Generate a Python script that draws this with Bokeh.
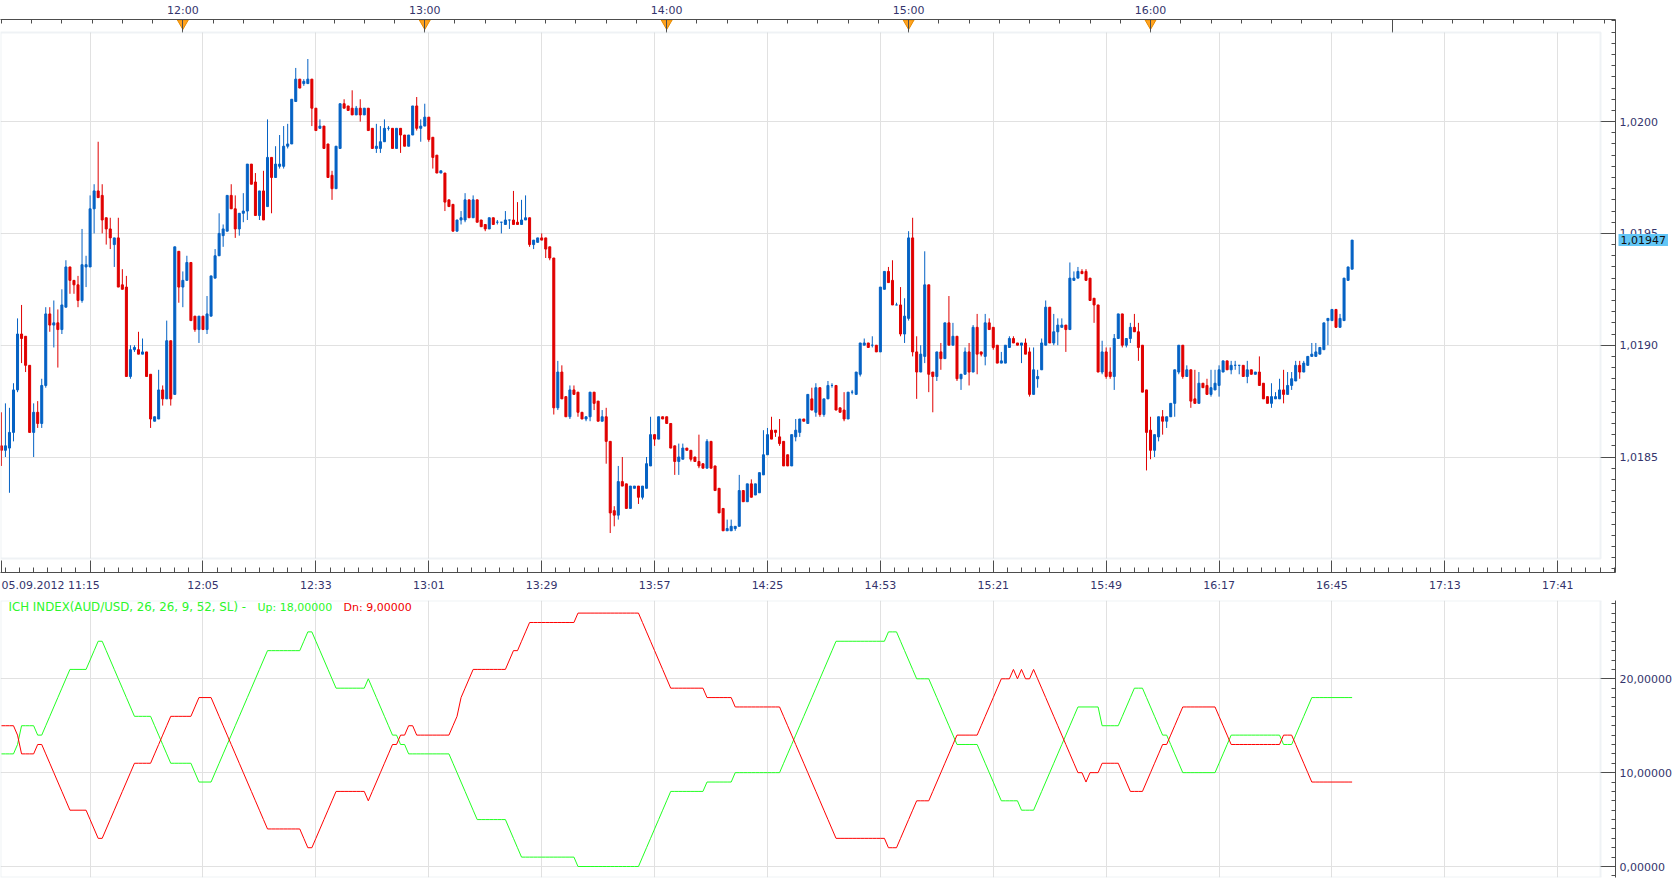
from bokeh.plotting import figure
from bokeh.layouts import column
from bokeh.models import (ColumnDataSource, FixedTicker, CustomJSTickFormatter,
                          LinearAxis, Grid, BoxAnnotation, Label)
from bokeh.core.properties import value
from bokeh.embed import file_html
from bokeh.resources import INLINE

# ---------------- data (1-minute AUD/USD bars from 05.09.2012 11:15) ----------------
# prices in points of 0.00001 above 1.00000
start_label = "05.09.2012 11:15"
opens = [
1855,1853,1854,1861,1880,1905,1904,1891,1861,1870, 1865,1882,1914,1909,1910,1907,1917,1935,1929,1927,
1920,1935,1935,1961,1969,1967,1957,1952,1945,1948, 1927,1926,1886,1898,1898,1896,1897,1887,1866,1867,
1880,1876,1902,1878,1942,1926,1929,1937,1913,1907, 1913,1907,1913,1930,1940,1949,1951,1967,1961,1952,
1959,1960,1981,1973,1958,1969,1962,1984,1975,1980, 1980,1989,1990,2009,2019,2017,2017,2019,2006,1997,
1998,1990,1976,1970,1988,2008,2007,2006,2003,2006, 2003,2006,1997,1988,1988,1991,1997,1997,1988,1997,
1994,1989,1994,2007,1997,1998,2002,1993,1985,1977, 1977,1965,1963,1951,1956,1956,1965,1957,1965,1956,
1954,1952,1957,1955,1955,1954,1956,1956,1955,1954, 1956,1957,1945,1946,1948,1948,1944,1939,1872,1888,
1877,1868,1880,1879,1870,1867,1868,1879,1875,1866, 1868,1857,1826,1824,1839,1838,1827,1836,1837,1832,
1836,1846,1860,1858,1868,1868,1865,1855,1848,1849, 1854,1853,1850,1848,1847,1845,1857,1846,1836,1827,
1817,1817,1818,1819,1835,1830,1838,1833,1834,1842, 1851,1862,1862,1859,1857,1851,1846,1859,1861,1867,
1865,1876,1870,1881,1869,1876,1882,1882,1872,1871, 1867,1879,1878,1887,1900,1901,1900,1900,1897,1925,
1933,1929,1918,1918,1905,1912,1948,1897,1888,1895, 1927,1888,1886,1897,1894,1910,1900,1904,1885,1887,
1897,1888,1908,1897,1895,1910,1908,1900,1892,1892, 1899,1903,1901,1900,1901,1897,1878,1885,1889,1900,
1917,1901,1906,1908,1909,1907,1929,1930,1933,1933, 1930,1921,1918,1888,1897,1888,1886,1903,1914,1900,
1903,1908,1906,1900,1880,1862,1853,1859,1868,1866, 1868,1874,1888,1900,1886,1889,1876,1874,1883,1882,
1878,1880,1882,1888,1893,1889,1891,1891,1891,1886, 1889,1887,1888,1883,1877,1874,1876,1876,1880,1878,
1882,1884,1891,1888,1891,1895,1895,1896,1898,1911, 1911,1916,1908,1911,1929,1934]
highs = [
1870,1874,1872,1883,1912,1918,1904,1891,1874,1875, 1885,1917,1917,1920,1916,1925,1938,1935,1929,1931,
1952,1940,1967,1972,1991,1972,1957,1957,1948,1957, 1934,1931,1900,1900,1906,1903,1897,1887,1868,1889,
1882,1911,1902,1944,1942,1933,1940,1937,1913,1913, 1913,1922,1931,1943,1959,1954,1967,1972,1967,1959,
1968,1981,1981,1977,1969,1978,2001,1984,1989,1994, 1998,1999,2010,2024,2019,2019,2028,2019,2006,2001,
1998,1990,1978,1989,2008,2010,2007,2014,2007,2010, 2006,2006,1997,1999,1998,2001,1998,1997,1997,1997,
1994,1994,2007,2011,2001,2008,2002,1993,1985,1978, 1977,1965,1963,1956,1960,1968,1965,1967,1965,1956,
1954,1957,1957,1956,1955,1960,1956,1969,1964,1965, 1967,1957,1947,1948,1950,1948,1944,1939,1893,1891,
1877,1882,1882,1879,1870,1868,1879,1879,1875,1871, 1872,1857,1828,1846,1850,1838,1837,1837,1837,1837,
1850,1868,1860,1868,1868,1868,1865,1855,1856,1856, 1854,1853,1850,1860,1847,1858,1857,1846,1836,1827,
1822,1822,1819,1842,1835,1838,1840,1838,1843,1862, 1863,1868,1862,1867,1857,1851,1860,1867,1867,1867,
1878,1881,1883,1881,1876,1884,1883,1882,1872,1879, 1879,1880,1888,1901,1903,1901,1904,1900,1926,1933,
1935,1938,1919,1926,1921,1951,1957,1904,1900,1942, 1927,1888,1897,1901,1910,1922,1910,1904,1887,1899,
1901,1909,1914,1897,1914,1912,1908,1900,1897,1900, 1904,1904,1901,1901,1903,1899,1899,1889,1903,1920,
1917,1914,1912,1912,1909,1937,1933,1935,1934,1934, 1930,1921,1918,1902,1899,1899,1905,1914,1914,1903,
1910,1914,1910,1900,1880,1868,1860,1868,1871,1868, 1874,1889,1900,1900,1891,1889,1889,1888,1883,1885,
1889,1889,1891,1893,1893,1893,1893,1891,1891,1893, 1889,1888,1895,1883,1877,1883,1879,1885,1889,1888,
1888,1893,1893,1893,1895,1901,1901,1899,1910,1912, 1916,1916,1914,1930,1935,1947]
lows = [
1846,1850,1834,1857,1879,1892,1888,1861,1850,1863, 1863,1881,1906,1899,1890,1905,1917,1923,1923,1917,
1919,1926,1935,1950,1966,1950,1945,1943,1935,1926, 1925,1886,1885,1897,1896,1896,1886,1863,1866,1867,
1873,1876,1873,1878,1919,1917,1929,1911,1906,1901, 1907,1905,1913,1930,1940,1944,1951,1961,1948,1949,
1955,1956,1972,1958,1956,1956,1962,1959,1975,1979, 1979,1988,1990,2009,2015,2016,2017,1998,1996,1997,
1988,1975,1965,1970,1988,2006,2005,2003,2003,2000, 2003,1996,1988,1986,1986,1991,1996,1988,1988,1986,
1989,1989,1994,1996,1991,1998,1991,1979,1977,1977, 1960,1962,1951,1951,1954,1955,1957,1957,1955,1953,
1951,1952,1954,1954,1950,1954,1952,1954,1954,1954, 1956,1944,1943,1946,1947,1939,1938,1869,1871,1876,
1868,1867,1878,1868,1867,1866,1866,1871,1866,1866, 1847,1816,1819,1822,1837,1827,1827,1836,1829,1831,
1836,1846,1855,1858,1867,1865,1854,1842,1842,1849, 1853,1848,1848,1845,1845,1845,1845,1835,1825,1817,
1817,1817,1817,1819,1830,1830,1832,1833,1834,1842, 1851,1858,1859,1855,1846,1846,1846,1857,1859,1866,
1865,1871,1868,1868,1868,1876,1881,1871,1870,1866, 1867,1878,1878,1886,1900,1899,1899,1897,1897,1925,
1928,1918,1918,1904,1901,1911,1895,1876,1888,1892, 1879,1870,1884,1889,1894,1900,1900,1884,1880,1887,
1882,1888,1887,1895,1891,1907,1898,1892,1892,1892, 1899,1901,1900,1892,1896,1877,1878,1881,1889,1900,
1901,1900,1900,1908,1897,1907,1929,1930,1932,1929, 1920,1910,1888,1887,1885,1885,1880,1903,1899,1899,
1901,1906,1893,1879,1844,1849,1850,1857,1860,1863, 1868,1868,1887,1885,1886,1872,1874,1874,1881,1878,
1877,1880,1877,1888,1889,1887,1889,1887,1886,1883, 1887,1887,1882,1876,1874,1872,1876,1876,1874,1878,
1880,1884,1885,1888,1891,1895,1895,1896,1898,1900, 1911,1908,1908,1911,1929,1934]
closes = [
1853,1855,1861,1880,1905,1903,1891,1861,1870,1865, 1882,1914,1909,1910,1907,1918,1935,1929,1927,1920,
1936,1936,1961,1969,1966,1956,1952,1948,1948,1926, 1925,1886,1898,1899,1896,1897,1886,1867,1868,1880,
1876,1902,1876,1944,1926,1929,1937,1911,1907,1913, 1907,1914,1931,1940,1950,1952,1967,1961,1952,1959,
1960,1981,1972,1958,1969,1956,1984,1975,1981,1981, 1989,1990,2010,2019,2015,2018,2019,2006,1996,1998,
1988,1975,1970,1989,2008,2006,2005,2003,2006,2003, 2006,1996,1988,1989,1991,1997,1997,1988,1997,1994,
1989,1994,2007,1997,1998,2002,1992,1984,1977,1978, 1964,1962,1951,1956,1957,1965,1957,1965,1955,1953,
1952,1957,1954,1955,1955,1956,1956,1954,1954,1956, 1957,1945,1947,1948,1947,1943,1939,1872,1888,1876,
1868,1880,1878,1870,1867,1868,1879,1874,1866,1868, 1857,1825,1824,1839,1837,1827,1837,1837,1832,1837,
1847,1860,1858,1868,1867,1865,1854,1848,1850,1854, 1853,1849,1848,1846,1845,1857,1845,1835,1825,1817,
1818,1819,1819,1835,1830,1838,1832,1838,1843,1851, 1860,1858,1861,1856,1846,1846,1860,1862,1867,1866,
1878,1871,1881,1869,1876,1882,1882,1871,1870,1867, 1879,1879,1888,1901,1901,1899,1900,1897,1926,1933,
1928,1918,1918,1905,1913,1948,1897,1888,1896,1927, 1887,1886,1897,1894,1910,1900,1904,1885,1887,1897,
1888,1908,1896,1896,1910,1907,1899,1892,1893,1900, 1903,1901,1900,1901,1896,1878,1889,1886,1901,1917,
1901,1906,1909,1909,1907,1930,1930,1933,1932,1929, 1920,1918,1888,1897,1886,1886,1903,1914,1900,1903,
1908,1906,1899,1879,1861,1853,1860,1868,1866,1868, 1874,1889,1900,1886,1889,1875,1874,1883,1881,1878,
1881,1883,1889,1893,1889,1891,1891,1891,1886,1889, 1887,1888,1882,1876,1874,1877,1877,1880,1878,1882,
1885,1891,1888,1892,1895,1896,1897,1899,1910,1912, 1916,1908,1912,1930,1935,1947]

# ICH INDEX up / down values per bar
ich_up = [
12,12,12,12,13,15,15,15,15,14, 14,15,16,17,18,19,20,21,21,21, 21,21,22,23,24,24,23,22,21,20,
19,18,17,16,16,16,16,16,15,14, 13,12,11,11,11,11,11,11,10,9, 9,9,9,10,11,12,13,14,15,16,
17,18,19,20,21,22,23,23,23,23, 23,23,23,23,23,24,25,25,24,23, 22,21,20,19,19,19,19,19,19,19,
19,20,19,18,17,16,15,14,14,13, 13,12,12,12,12,12,12,12,12,12, 12,12,11,10,9,8,7,6,5,5,
5,5,5,5,5,5,4,3,2,1, 1,1,1,1,1,1,1,1,1,1, 1,1,1,0,0,0,0,0,0,0,
0,0,0,0,0,0,0,0,0,1, 2,3,4,5,6,7,8,8,8,8, 8,8,8,8,8,9,9,9,9,9,
9,9,10,10,10,10,10,10,10,10, 10,10,10,10,11,12,13,14,15,16, 17,18,19,20,21,22,23,24,24,24,
24,24,24,24,24,24,24,24,24,24, 25,25,25,24,23,22,21,20,20,20, 20,19,18,17,16,15,14,13,13,13,
13,13,13,12,11,10,9,8,7,7, 7,7,7,6,6,6,6,7,8,9, 10,11,12,13,14,15,16,17,17,17,
17,17,17,15,15,15,15,15,16,17, 18,19,19,19,18,17,16,15,14,14, 13,12,11,10,10,10,10,10,10,10,
10,10,11,12,13,14,14,14,14,14, 14,14,14,14,14,14,14,14,13,13, 13,14,15,16,17,18,18,18,18,18,
18,18,18,18,18,18]
ich_dn = [
15,15,15,15,14,12,12,12,12,13, 13,12,11,10,9,8,7,6,6,6, 6,6,5,4,3,3,4,5,6,7,
8,9,10,11,11,11,11,11,12,13, 14,15,16,16,16,16,16,16,17,18, 18,18,18,17,16,15,14,13,12,11,
10,9,8,7,6,5,4,4,4,4, 4,4,4,4,4,3,2,2,3,4, 5,6,7,8,8,8,8,8,8,8,
8,7,8,9,10,11,12,13,13,14, 14,15,15,14,14,14,14,14,14,14, 14,14,15,16,18,19,20,21,21,21,
21,21,21,21,21,21,22,23,23,24, 25,26,26,26,26,26,26,26,26,26, 26,26,26,27,27,27,27,27,27,27,
27,27,27,27,27,27,27,27,27,26, 25,24,23,22,21,20,19,19,19,19, 19,19,19,19,19,18,18,18,18,18,
18,18,17,17,17,17,17,17,17,17, 17,17,17,17,16,15,14,13,12,11, 10,9,8,7,6,5,4,3,3,3,
3,3,3,3,3,3,3,3,3,3, 2,2,2,3,4,5,6,7,7,7, 7,8,9,10,11,12,13,14,14,14,
14,14,14,15,16,17,18,19,20,20, 20,21,20,21,20,20,21,20,19,18, 17,16,15,14,13,12,11,10,10,9,
10,10,10,11,11,11,11,11,10,9, 8,8,8,8,9,10,11,12,13,13, 14,15,16,17,17,17,17,17,17,17,
17,17,16,15,14,13,13,13,13,13, 13,13,13,13,13,13,13,13,14,14, 14,13,12,11,10,9,9,9,9,9,
9,9,9,9,9,9]

hour_ticks = [45, 105, 165, 225, 285, 345]          # minutes after 11:15
hour_labels = ["12:00", "13:00", "14:00", "15:00", "16:00", ""]
time_ticks = [22, 50, 78, 106, 134, 162, 190, 218, 246, 274, 302, 330, 358, 386]
time_labels = ["", "12:05", "12:33", "13:01", "13:29", "13:57", "14:25", "14:53",
               "15:21", "15:49", "16:17", "16:45", "17:13", "17:41"]
price_ticks = [1.0185, 1.0190, 1.0195, 1.0200]
ich_ticks = [0, 10, 20]
last_price_label = "1,01947"
title_name = "ICH INDEX(AUD/USD, 26, 26, 9, 52, SL) -"
title_up = "Up: 18,00000"
title_dn = "Dn: 9,00000"

# ---------------- styling / geometry ----------------
FONT = "DejaVu Sans"
FS = "11px"
LABEL = "#34346c"
AXIS = "#4d4d4d"
GRID = "#e1e1e1"
BORDER = "#cbd3de"
UP = "#0562c4"
DOWN = "#e00000"

PX_PER_MIN = 4.037
X0_PX = 0.9
FRAME_RIGHT = 1617
INNER_RIGHT = 1602
x_start = -X0_PX / PX_PER_MIN
x_end = x_start + FRAME_RIGHT / PX_PER_MIN
x_inner = x_start + INNER_RIGHT / PX_PER_MIN

MAIN_TOP, MAIN_BOTTOM = 18, 572
INNER_TOP, INNER_BOTTOM = 31, 558
PX_PER_PRICE = 112 / 0.0005
def price_at(px):
    return 1.0200 - (px - 120.3) / PX_PER_PRICE

IND_TOP, IND_BOTTOM = 600, 877
def ind_at(px):
    return (866 - px) / 9.385

n = len(closes)
idx = list(range(n))
O = [1 + v * 1e-5 for v in opens]
Hh = [1 + v * 1e-5 for v in highs]
Ll = [1 + v * 1e-5 for v in lows]
C = [1 + v * 1e-5 for v in closes]
col = [UP if c >= o else DOWN for o, c in zip(O, C)]
src = ColumnDataSource(dict(x=idx, high=Hh, low=Ll,
                            top=[max(o, c) for o, c in zip(O, C)],
                            bottom=[min(o, c) for o, c in zip(O, C)], color=col))


def style_axis(ax):
    ax.axis_line_color = AXIS
    ax.major_tick_line_color = AXIS
    ax.minor_tick_line_color = AXIS
    ax.major_label_text_font = FONT
    ax.major_label_text_font_size = FS
    ax.major_label_text_color = LABEL
    ax.major_tick_out = 0
    ax.minor_tick_out = 0


def label_fmt(tick_values, tick_texts):
    return CustomJSTickFormatter(args=dict(tv=tick_values, tt=tick_texts), code="""
        const k = tv.findIndex(t => Math.abs(t - tick) < 1e-6);
        return k >= 0 ? tt[k] : "";
    """)

# ---------------- main price panel ----------------
p = figure(width=1674, height=598, x_range=(x_start, x_end),
           y_range=(price_at(MAIN_BOTTOM), price_at(MAIN_TOP)),
           x_axis_type=None, y_axis_type=None, toolbar_location=None,
           output_backend="svg", min_border_left=0, min_border_right=57,
           min_border_top=MAIN_TOP, min_border_bottom=598 - MAIN_BOTTOM)
p.outline_line_color = None

p.add_layout(Grid(dimension=0, ticker=FixedTicker(ticks=time_ticks), grid_line_color=GRID,
                  cross_bounds=(price_at(INNER_BOTTOM), price_at(INNER_TOP))), "center")
p.add_layout(Grid(dimension=1, ticker=FixedTicker(ticks=price_ticks), grid_line_color=GRID,
                  cross_bounds=(x_start, x_inner)), "center")

top_ax = LinearAxis(ticker=FixedTicker(ticks=hour_ticks, minor_ticks=[7.5 * k for k in range(54)]),
                    formatter=label_fmt(hour_ticks, hour_labels))
style_axis(top_ax)
top_ax.major_tick_in = 13
top_ax.minor_tick_in = 4
top_ax.major_label_standoff = 3
p.add_layout(top_ax, "above")

bot_ax = LinearAxis(ticker=FixedTicker(ticks=[0] + time_ticks, minor_ticks=[1 + 3.5 * k for k in range(115)]),
                    formatter=label_fmt([0] + time_ticks, [""] + time_labels))
style_axis(bot_ax)
bot_ax.major_tick_in = 12
bot_ax.minor_tick_in = 5
bot_ax.major_label_standoff = 6
p.add_layout(bot_ax, "below")

r_ax = LinearAxis(ticker=FixedTicker(ticks=price_ticks,
                                     minor_ticks=[1.0180 + 0.00005 * k for k in range(50)]),
                  formatter=CustomJSTickFormatter(code="return tick.toFixed(4).replace('.', ',');"))
style_axis(r_ax)
r_ax.major_tick_in = 15
r_ax.minor_tick_in = 4
r_ax.major_label_standoff = 4
p.add_layout(r_ax, "right")

p.segment(x0="x", y0="low", x1="x", y1="high", line_color="color", line_width=1, source=src)
p.vbar(x="x", width=0.5, top="top", bottom="bottom", fill_color="color",
       line_color="color", line_width=1, source=src)

mk = [t for t, lab in zip(hour_ticks, hour_labels) if lab]
p.scatter(x=mk, y=[price_at(21.6)] * len(mk), marker="inverted_triangle", size=11,
          fill_color="#ffa21f", line_color="#e58a00", line_width=1)

p.add_layout(BoxAnnotation(left=x_start, right=x_inner, bottom=price_at(INNER_BOTTOM),
                           top=price_at(INNER_TOP), fill_alpha=0, line_color=BORDER, line_width=2))

# texts outside the frame: drawn as overlay-level text glyphs (not clipped to the frame)
p.text(x=[x_start], y=[price_at(585)], text=[start_label], x_offset=1,
       text_align="left", text_baseline="middle", text_font=value(FONT),
       text_font_size=value(FS), text_color=LABEL, level="overlay")
p.text(x=[x_end], y=[C[-1]], text=[last_price_label], x_offset=3,
       text_align="left", text_baseline="middle", text_font=value(FONT),
       text_font_size=value(FS), text_color="#101010",
       background_fill_color="#62c6f6", padding=2, level="overlay")

# ---------------- indicator panel ----------------
q = figure(width=1674, height=282, x_range=p.x_range,
           y_range=(ind_at(IND_BOTTOM), ind_at(IND_TOP)),
           x_axis_type=None, y_axis_type=None, toolbar_location=None,
           output_backend="svg", min_border_left=0, min_border_right=57,
           min_border_top=IND_TOP - 598, min_border_bottom=880 - IND_BOTTOM)
q.outline_line_color = None
q.add_layout(Grid(dimension=0, ticker=FixedTicker(ticks=time_ticks), grid_line_color=GRID), "center")
q.add_layout(Grid(dimension=1, ticker=FixedTicker(ticks=ich_ticks), grid_line_color=GRID,
                  cross_bounds=(x_start, x_inner)), "center")

qr = LinearAxis(ticker=FixedTicker(ticks=ich_ticks, minor_ticks=list(range(-1, 29))),
                formatter=CustomJSTickFormatter(code="return tick.toFixed(5).replace('.', ',');"))
style_axis(qr)
qr.major_tick_in = 15
qr.minor_tick_in = 4
qr.major_label_standoff = 4
q.add_layout(qr, "right")

q.line(idx, ich_up, line_color="#22ff22", line_width=1)
q.line(idx, ich_dn, line_color="#ff0000", line_width=1)

q.add_layout(BoxAnnotation(left=x_start, right=x_inner, bottom=ind_at(IND_BOTTOM),
                           top=ind_at(IND_TOP), fill_alpha=0, line_color=BORDER, line_width=2))
fh = IND_BOTTOM - IND_TOP
for tx, xpos, colr, fs in [(title_name, 8, "#2cf52c", "11.8px"), (title_up, 257, "#2cf52c", FS),
                           (title_dn, 343, "#f00000", FS)]:
    q.add_layout(Label(x=xpos, y=fh - 6.7, x_units="screen", y_units="screen", text=tx,
                       text_align="left", text_baseline="middle", text_font=FONT,
                       text_font_size=fs, text_color=colr))

layout = column(p, q, spacing=0)
open("out.html", "w").write(file_html(layout, INLINE))
